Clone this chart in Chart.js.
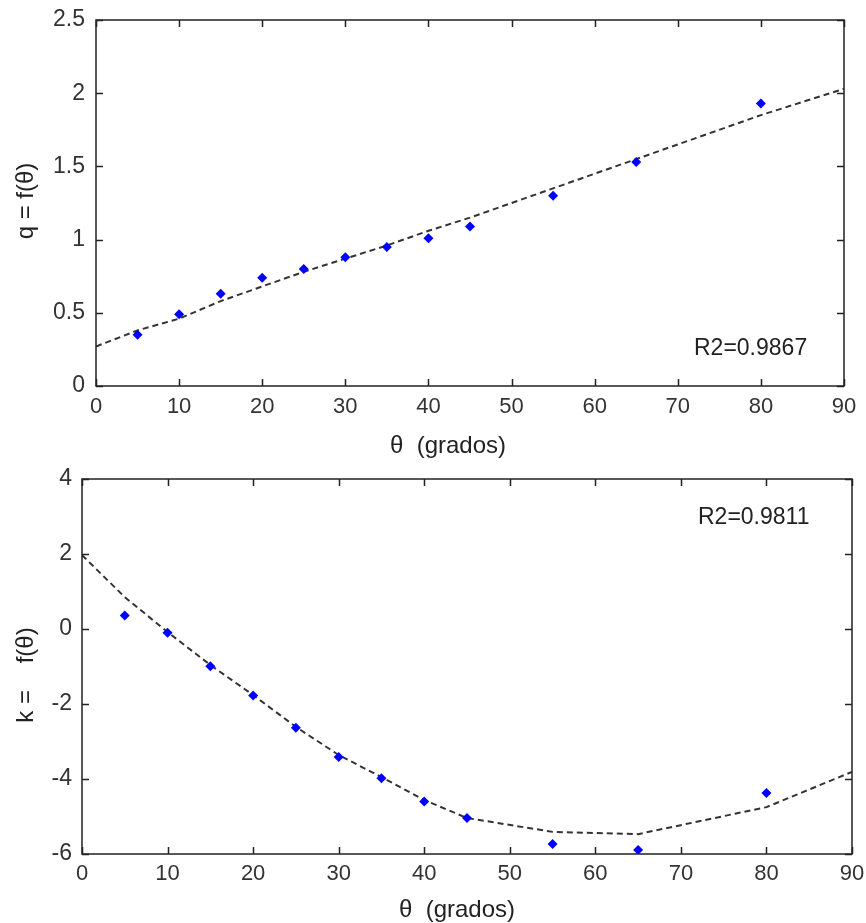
<!DOCTYPE html>
<html>
<head>
<meta charset="utf-8">
<script src="https://cdn.jsdelivr.net/npm/chart.js@4/dist/chart.umd.min.js"></script>
<style>
  html, body { margin: 0; padding: 0; background: #fff; }
  #wrap { position: relative; width: 866px; height: 923px; }
  #wrap canvas { position: absolute; left: 0; }
  #qChart { top: 0; }
  #kChart { top: 465px; }
</style>
</head>
<body>
<div id="wrap">
  <canvas id="qChart" width="866" height="465"></canvas>
  <canvas id="kChart" width="866" height="458"></canvas>
</div>
<script>
// measured angles (grados) and the two coefficients
const thetaDeg = [5, 10, 15, 20, 25, 30, 35, 40, 45, 55, 65, 80];
const qValues = [0.35, 0.49, 0.63, 0.74, 0.80, 0.88, 0.95, 1.01, 1.09, 1.30, 1.53, 1.93];
const kValues = [0.36, -0.10, -0.99, -1.77, -2.63, -3.41, -3.98, -4.60, -5.04, -5.73, -5.89, -4.37];

// fitted curves, evaluated at the measured angles plus both ends
const fitTheta = [0, 5, 10, 15, 20, 25, 30, 35, 40, 45, 55, 65, 80, 90];
const qFit = [0.27, 0.38, 0.46, 0.58, 0.68, 0.78, 0.87, 0.96, 1.06, 1.15, 1.35, 1.55, 1.85, 2.03];
const kFit = [1.97, 0.85, -0.08, -0.96, -1.76, -2.61, -3.36, -3.95, -4.56, -5.04, -5.41, -5.47, -4.75, -3.81];

const xTicks = [0, 10, 20, 30, 40, 50, 60, 70, 80, 90];
const qTicks = [0, 0.5, 1, 1.5, 2, 2.5];
const kTicks = [-6, -4, -2, 0, 2, 4];

const FONT = "'Liberation Sans', Arial, sans-serif";
const INK = '#222';

const toXY = (xs, ys) => xs.map((x, i) => ({ x, y: ys[i] }));

// box around the plot area with inward tick marks on all four sides,
// plus axis captions and the R2 note
const matlabFrame = {
  id: 'matlabFrame',
  afterDatasetsDraw(chart, args, opts) {
    const { ctx, chartArea: a, scales } = chart;
    const tl = 7;
    ctx.save();
    ctx.strokeStyle = INK;
    ctx.lineWidth = 1.5;
    ctx.strokeRect(a.left, a.top, a.right - a.left, a.bottom - a.top);
    ctx.beginPath();
    opts.xTicks.forEach(v => {
      const px = Math.round(scales.x.getPixelForValue(v)) + 0.5;
      ctx.moveTo(px, a.bottom); ctx.lineTo(px, a.bottom - tl);
      ctx.moveTo(px, a.top); ctx.lineTo(px, a.top + tl);
    });
    opts.yTicks.forEach(v => {
      const py = Math.round(scales.y.getPixelForValue(v)) + 0.5;
      ctx.moveTo(a.left, py); ctx.lineTo(a.left + tl, py);
      ctx.moveTo(a.right, py); ctx.lineTo(a.right - tl, py);
    });
    ctx.stroke();

    ctx.fillStyle = INK;
    ctx.font = '23px ' + FONT;
    ctx.textBaseline = 'middle';
    ctx.textAlign = 'left';
    ctx.fillText(opts.note, opts.noteX, opts.noteY);

    ctx.textAlign = 'center';
    ctx.font = '24px ' + FONT;
    ctx.fillText('\u03b8  (grados)', opts.xTitleX, opts.xTitleY);
    ctx.translate(opts.yTitleX, opts.yTitleY);
    ctx.rotate(-Math.PI / 2);
    ctx.fillText(opts.yTitle, 0, 0);
    ctx.restore();
  }
};

function makeChart(id, ys, fit, yMin, yMax, yTicks, frame, layout) {
  return new Chart(document.getElementById(id), {
    type: 'scatter',
    data: {
      datasets: [
        {
          data: toXY(fitTheta, fit),
          showLine: true,
          borderColor: '#333',
          borderWidth: 2,
          borderDash: [6, 4],
          pointRadius: 0,
          tension: 0,
          order: 2,
        },
        {
          data: toXY(thetaDeg, ys),
          pointStyle: 'rectRot',
          pointRadius: 5,
          backgroundColor: '#0000ff',
          borderColor: '#0000ff',
          borderWidth: 0,
          order: 1,
        },
      ],
    },
    options: {
      responsive: false,
      animation: false,
      layout: { padding: layout.padding },
      plugins: { legend: { display: false }, tooltip: { enabled: false }, matlabFrame: frame },
      scales: {
        x: {
          type: 'linear', min: 0, max: 90,
          afterBuildTicks: s => { s.ticks = xTicks.map(v => ({ value: v })); },
          afterFit: s => { s.height = layout.xHeight; s.paddingLeft = 0; s.paddingRight = 0; },
          grid: { display: false, drawTicks: false },
          border: { display: false },
          ticks: { color: '#333', padding: layout.xPad, font: { family: FONT, size: 22 } },
        },
        y: {
          type: 'linear', min: yMin, max: yMax,
          afterBuildTicks: s => { s.ticks = yTicks.map(v => ({ value: v })); },
          afterFit: s => { s.width = layout.yWidth; s.paddingTop = 0; s.paddingBottom = 0; },
          grid: { display: false, drawTicks: false },
          border: { display: false },
          ticks: {
            color: '#333', padding: layout.yPad, font: { family: FONT, size: 23 },
            callback: v => String(v),
          },
        },
      },
    },
    plugins: [matlabFrame],
  });
}

makeChart('qChart', qValues, qFit, 0, 2.5, qTicks,
  { xTicks, yTicks: qTicks, note: 'R2=0.9867', noteX: 694, noteY: 349,
    xTitleX: 448, xTitleY: 446, yTitle: 'q = f(\u03b8)', yTitleX: 26, yTitleY: 201 },
  { padding: { top: 20, right: 22, left: 0, bottom: 0 }, xHeight: 79, yWidth: 96, xPad: 8, yPad: 11 });

makeChart('kChart', kValues, kFit, -6, 4, kTicks,
  { xTicks, yTicks: kTicks, note: 'R2=0.9811', noteX: 698, noteY: 53,
    xTitleX: 457, xTitleY: 445, yTitle: 'k =    f(\u03b8)', yTitleX: 26, yTitleY: 210 },
  { padding: { top: 14, right: 14, left: 0, bottom: 0 }, xHeight: 69, yWidth: 82, xPad: 7, yPad: 10 });
</script>
</body>
</html>
